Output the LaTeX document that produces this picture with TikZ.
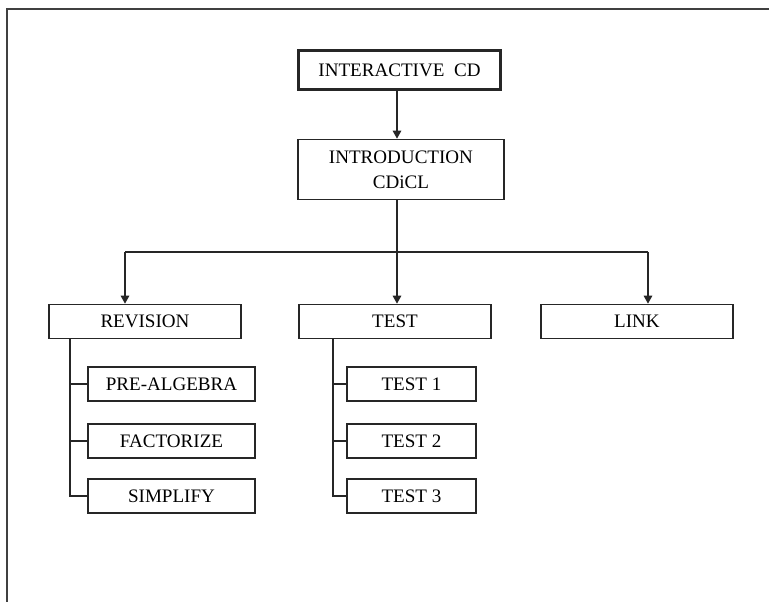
\documentclass[tikz,border=0pt]{standalone}
\usepackage{fontspec}
\setmainfont{Liberation Serif}
\usetikzlibrary{arrows.meta}
\begin{document}
\begin{tikzpicture}[x=0.75pt,y=-0.75pt,
  box/.style={draw=black!85,line width=0.8pt,fill=white,inner sep=0pt,align=center,
    font=\fontsize{14.3}{18.75}\selectfont,minimum height=26pt},
  bigbox/.style={box,minimum width=144pt},
  subbox/.style={box,minimum height=25.5pt},
  conn/.style={draw=black!85,line width=0.8pt},
  arr/.style={conn,-{Triangle[length=6pt,width=6.5pt]}},
  frameline/.style={draw=black!75,line width=1.2pt}]
\useasboundingbox (0,0) rectangle (769,602);
\draw[frameline] (7,602) -- (7,9) -- (769,9);

\node[box,line width=2.3pt,minimum width=152pt,minimum height=29pt] (icd) at (399.5,70) {INTERACTIVE\enspace CD};
\node[box,minimum width=154.5pt,minimum height=45.5pt] (intro) at (401,169.5) {INTRODUCTION\\CDiCL};

\node[bigbox] (rev) at (145,321.5) {REVISION};
\node[bigbox] (test) at (395,321.5) {TEST};
\node[bigbox] (link) at (637,321.5) {LINK};

\node[subbox,minimum width=125.25pt] (pre) at (171.5,384) {PRE-ALGEBRA};
\node[subbox,minimum width=125.25pt] (fac) at (171.5,441) {FACTORIZE};
\node[subbox,minimum width=125.25pt] (sim) at (171.5,496) {SIMPLIFY};

\node[subbox,minimum width=96.75pt] (t1) at (411.5,384) {TEST 1};
\node[subbox,minimum width=96.75pt] (t2) at (411.5,441) {TEST 2};
\node[subbox,minimum width=96.75pt] (t3) at (411.5,496) {TEST 3};

\coordinate (av) at (397,0);
\draw[arr] (av |- icd.south) -- (av |- intro.north);
\coordinate (hl) at (125,252);
\coordinate (hr) at (648,252);
\draw[arr] (av |- intro.south) -- (av |- test.north);
\draw[conn] (hl) -- (hr);
\draw[arr] (hl) -- (hl |- rev.north);
\draw[arr] (hr) -- (hr |- link.north);

\coordinate (rv) at (70,339);
\draw[conn] (rv) |- (pre.west);
\draw[conn] (rv) |- (fac.west);
\draw[conn] (rv) |- (sim.west);

\coordinate (tv) at (333,339);
\draw[conn] (tv) |- (t1.west);
\draw[conn] (tv) |- (t2.west);
\draw[conn] (tv) |- (t3.west);
\end{tikzpicture}
\end{document}
